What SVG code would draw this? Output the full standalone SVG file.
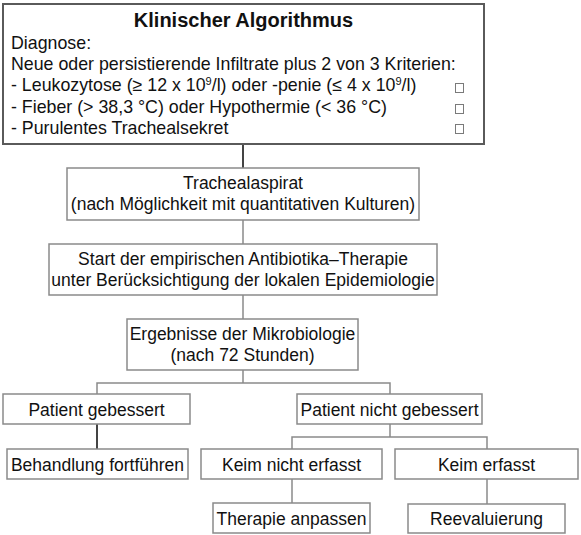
<svg xmlns="http://www.w3.org/2000/svg" width="581" height="535" viewBox="0 0 581 535">
<style>
  text { font-family: "Liberation Sans", Arial, sans-serif; font-size: 17.5px; fill: #111; }
  .c { text-anchor: middle; }
  .t { font-size: 17.8px; }
  .title { font-weight: bold; font-size: 20px; }
  .box { fill: #fff; stroke: #8a8a8a; stroke-width: 1.5; }
  .main { fill: #fff; stroke: #5a5a5a; stroke-width: 2; }
  .chk { fill: #fff; stroke: #7a7a7a; stroke-width: 1; }
  .sup { font-size: 11px; }
  #connectors path { fill: none; stroke: #8a8a8a; stroke-width: 1.5; }
  #connectors path.dark { stroke: #444; stroke-width: 2; }
</style>
<rect width="581" height="535" fill="#fff"/>
<g id="connectors">
  <path class="dark" d="M243 144V168"/>
  <path d="M243 220V244"/>
  <path d="M243 295V319"/>
  <path d="M243 370V383M97 394V383H390V394"/>
  <path class="dark" d="M97 424V449"/>
  <path d="M390 424V437M292 449V437H487V449"/>
  <path d="M292 479V503"/>
  <path d="M487 479V504"/>
</g>
<g id="klinischer-algorithmus">
  <rect class="main" x="3" y="4" width="481" height="140"/>
  <text class="c title" x="243.5" y="27">Klinischer Algorithmus</text>
  <text class="t" x="11" y="49">Diagnose:</text>
  <text class="t" x="11" y="70">Neue oder persistierende Infiltrate plus 2 von 3 Kriterien:</text>
  <text class="t" x="11" y="91">- Leukozytose (≥ 12 x 10<tspan class="sup" dy="-6">9</tspan><tspan dy="6">/l) oder -penie (≤ 4 x 10</tspan><tspan class="sup" dy="-6">9</tspan><tspan dy="6">/l)</tspan></text>
  <text class="t" x="11" y="113">- Fieber (&gt; 38,3 °C) oder Hypothermie (&lt; 36 °C)</text>
  <text class="t" x="11" y="134">- Purulentes Trachealsekret</text>
  <rect class="chk" x="455.5" y="83.5" width="8" height="9"/>
  <rect class="chk" x="455.5" y="104.5" width="8" height="9"/>
  <rect class="chk" x="455.5" y="124.5" width="8" height="9"/>
</g>
<g id="trachealaspirat">
  <rect class="box" x="67" y="168" width="352" height="52"/>
  <text class="c" x="243" y="189">Trachealaspirat</text>
  <text class="c" x="243" y="210">(nach Möglichkeit mit quantitativen Kulturen)</text>
</g>
<g id="antibiotika-therapie">
  <rect class="box" x="49" y="244" width="388" height="51"/>
  <text class="c" x="243" y="265">Start der empirischen Antibiotika–Therapie</text>
  <text class="c" x="243" y="286">unter Berücksichtigung der lokalen Epidemiologie</text>
</g>
<g id="mikrobiologie">
  <rect class="box" x="127" y="319" width="231" height="51"/>
  <text class="c" x="242.5" y="340">Ergebnisse der Mikrobiologie</text>
  <text class="c" x="242.5" y="361">(nach 72 Stunden)</text>
</g>
<g id="patient-gebessert">
  <rect class="box" x="3" y="394" width="187" height="30"/>
  <text class="c" x="96.5" y="416">Patient gebessert</text>
</g>
<g id="patient-nicht-gebessert">
  <rect class="box" x="297" y="394" width="185" height="30"/>
  <text class="c" x="389.5" y="416">Patient nicht gebessert</text>
</g>
<g id="behandlung-fortfuehren">
  <rect class="box" x="7" y="449" width="181" height="30"/>
  <text class="c" x="97.5" y="471">Behandlung fortführen</text>
</g>
<g id="keim-nicht-erfasst">
  <rect class="box" x="201" y="449" width="181" height="30"/>
  <text class="c" x="291.5" y="471">Keim nicht erfasst</text>
</g>
<g id="keim-erfasst">
  <rect class="box" x="395" y="449" width="183" height="30"/>
  <text class="c" x="486.5" y="471">Keim erfasst</text>
</g>
<g id="therapie-anpassen">
  <rect class="box" x="213" y="503" width="157" height="30"/>
  <text class="c" x="291.5" y="525">Therapie anpassen</text>
</g>
<g id="reevaluierung">
  <rect class="box" x="408" y="504" width="157" height="29"/>
  <text class="c" x="486.5" y="525">Reevaluierung</text>
</g>
</svg>
